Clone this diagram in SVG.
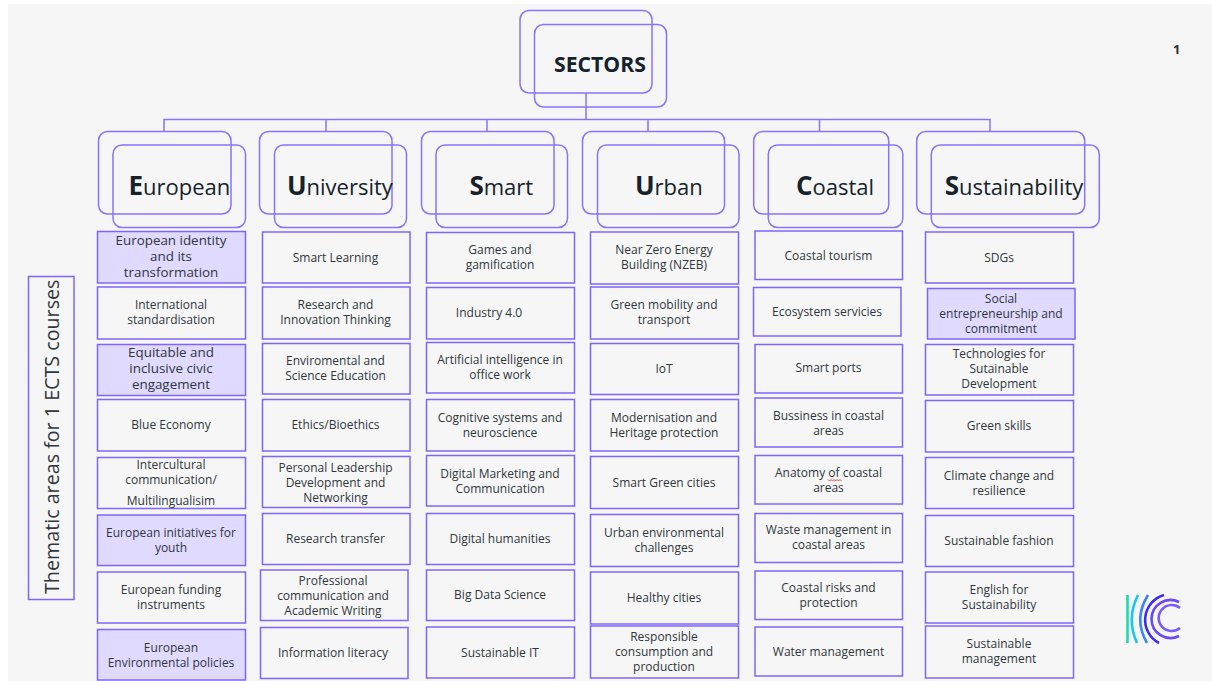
<svg xmlns="http://www.w3.org/2000/svg" width="1212" height="681" viewBox="0 0 1212 681">
<style>
text{font-family:"Open Sans","Noto Sans","Liberation Sans",sans-serif;fill:#2f363c}
.t{font-size:12px;text-anchor:middle;transform:translateY(.7px)}
.b{font-size:13.4px;text-anchor:middle;transform:translateY(.3px)}
.h{font-size:22px;fill:#15222b;transform:translateX(-.6px)}
.h tspan{font-size:26px;font-weight:700}
.s{font-size:21.2px;font-weight:700;fill:#15222b}
.r,.rf{stroke:#7f66fb;stroke-width:1.5;fill:none}
.rf{fill:#e0daff}
.c{stroke:#8a73fb;stroke-width:1.5;fill:none}
.l{stroke-width:2.6;fill:none}
</style>
<rect width="1212" height="681" fill="#fff"/>
<rect x="8" y="4" width="1204" height="677" fill="#f6f6f6"/>
<g id="connectors">
<path class="c" d="M586 93V119.5M164 131.5V119.5H990V131.5M326 119.5V131.5M487 119.5V131.5M648 119.5V131.5M819.5 119.5V131.5"/>
</g>
<g id="sectors"><rect class="c" x="520" y="10.5" width="132" height="82.5" rx="9"/><rect class="c" x="534.5" y="24.5" width="132" height="82.5" rx="9"/><text class="s" x="554" y="71.500">SECTORS</text></g>
<g id="european"><rect class="c" x="98.5" y="131.5" width="132.5" height="82.5" rx="9"/><rect class="c" x="113" y="145" width="132.5" height="82.5" rx="9"/><text class="h" x="129" y="194.5"><tspan>E</tspan>uropean</text></g>
<g id="university"><rect class="c" x="259.5" y="131.5" width="132.5" height="82.5" rx="9"/><rect class="c" x="274.5" y="145" width="132" height="82.5" rx="9"/><text class="h" x="287.5" y="194.5"><tspan>U</tspan>niversity</text></g>
<g id="smart"><rect class="c" x="421.5" y="131.5" width="132.5" height="82.5" rx="9"/><rect class="c" x="436" y="145" width="131.5" height="82.5" rx="9"/><text class="h" x="470" y="194.5"><tspan>S</tspan>mart</text></g>
<g id="urban"><rect class="c" x="582.5" y="131.5" width="142" height="82.5" rx="9"/><rect class="c" x="597.5" y="145" width="141.5" height="82.5" rx="9"/><text class="h" x="635.500" y="194.5"><tspan>U</tspan>rban</text></g>
<g id="coastal"><rect class="c" x="753.7" y="131.5" width="135" height="82.5" rx="9"/><rect class="c" x="768.3" y="145" width="134.5" height="82.5" rx="9"/><text class="h" x="796.5" y="194.5"><tspan>C</tspan>oastal</text></g>
<g id="sustainability"><rect class="c" x="916.7" y="131.5" width="168" height="82.5" rx="9"/><rect class="c" x="931.3" y="145" width="168" height="82.5" rx="9"/><text class="h" x="945.3" y="194.5"><tspan>S</tspan>ustainability</text></g>

<g id="eu1"><rect class="rf" x="97.5" y="231.5" width="148" height="51.5"/><text class="b" x="171" y="244.5">European identity</text><text class="b" x="171" y="260.7">and its</text><text class="b" x="171" y="277">transformation</text></g>
<g id="eu2"><rect class="r" x="97.5" y="287" width="148" height="52"/><text class="t" x="171" y="308.7">International</text><text class="t" x="171" y="323.7">standardisation</text></g>
<g id="eu3"><rect class="rf" x="97.5" y="344.5" width="148" height="51"/><text class="b" x="171" y="357">Equitable and</text><text class="b" x="171" y="372.7">inclusive civic</text><text class="b" x="171" y="389">engagement</text></g>
<g id="eu4"><rect class="r" x="97.5" y="399.5" width="148" height="51.5"/><text class="t" x="171" y="428.7">Blue Economy</text></g>
<g id="eu5"><rect class="r" x="97.5" y="457.5" width="148" height="51"/><text class="t" x="171" y="468.7">Intercultural</text><text class="t" x="171" y="483.7">communication/</text><text class="t" x="171" y="504.7">Multilingualisim</text></g>
<g id="eu6"><rect class="rf" x="97.5" y="515" width="148" height="50.5"/><text class="t" x="171" y="536.7">European initiatives for</text><text class="t" x="171" y="551.3">youth</text></g>
<g id="eu7"><rect class="r" x="97.5" y="572" width="148" height="51"/><text class="t" x="171" y="593.7">European funding</text><text class="t" x="171" y="608.7">instruments</text></g>
<g id="eu8"><rect class="rf" x="97.5" y="629.5" width="148" height="50.5"/><text class="t" x="171" y="651">European</text><text class="t" x="171" y="666">Environmental policies</text></g>

<g id="un1"><rect class="r" x="262.5" y="232" width="147.5" height="51"/><text class="t" x="335.5" y="261">Smart Learning</text></g>
<g id="un2"><rect class="r" x="262.5" y="287" width="147.5" height="52"/><text class="t" x="335.5" y="308.7">Research and</text><text class="t" x="335.5" y="323.7">Innovation Thinking</text></g>
<g id="un3"><rect class="r" x="262.5" y="343.5" width="147.5" height="50.5"/><text class="t" x="335.5" y="364.3">Enviromental and</text><text class="t" x="335.5" y="379.3">Science Education</text></g>
<g id="un4"><rect class="r" x="262.5" y="399.5" width="147.5" height="51.5"/><text class="t" x="335.5" y="428.7">Ethics/Bioethics</text></g>
<g id="un5"><rect class="r" x="262.5" y="456.5" width="147.5" height="51"/><text class="t" x="335.5" y="471">Personal Leadership</text><text class="t" x="335.5" y="486">Development and</text><text class="t" x="335.5" y="501">Networking</text></g>
<g id="un6"><rect class="r" x="262.5" y="513.5" width="147.5" height="51"/><text class="t" x="335.5" y="542.7">Research transfer</text></g>
<g id="un7"><rect class="r" x="260.5" y="570" width="147.5" height="50.5"/><text class="t" x="333" y="584.3">Professional</text><text class="t" x="333" y="599.3">communication and</text><text class="t" x="333" y="614.3">Academic Writing</text></g>
<g id="un8"><rect class="r" x="260.5" y="627.5" width="147.5" height="51"/><text class="t" x="333" y="656">Information literacy</text></g>

<g id="sm1"><rect class="r" x="426.5" y="232.5" width="148" height="50.5"/><text class="t" x="500" y="253.3">Games and</text><text class="t" x="500" y="268.3">gamification</text></g>
<g id="sm2"><rect class="r" x="426.5" y="287.5" width="148" height="51.5"/><text class="t" x="489" y="316">Industry 4.0</text></g>
<g id="sm3"><rect class="r" x="426.5" y="342.5" width="148" height="50.5"/><text class="t" x="500" y="363.7">Artificial intelligence in</text><text class="t" x="500" y="378.7">office work</text></g>
<g id="sm4"><rect class="r" x="426.5" y="399.5" width="148" height="51.5"/><text class="t" x="500" y="421">Cognitive systems and</text><text class="t" x="500" y="436">neuroscience</text></g>
<g id="sm5"><rect class="r" x="426.5" y="455.5" width="148" height="50.5"/><text class="t" x="500" y="477">Digital Marketing and</text><text class="t" x="500" y="492">Communication</text></g>
<g id="sm6"><rect class="r" x="426.5" y="513.5" width="148" height="51"/><text class="t" x="500" y="542.7">Digital humanities</text></g>
<g id="sm7"><rect class="r" x="426.5" y="570" width="148" height="50.5"/><text class="t" x="500" y="598.7">Big Data Science</text></g>
<g id="sm8"><rect class="r" x="426.5" y="627" width="148" height="51"/><text class="t" x="500" y="656">Sustainable IT</text></g>

<g id="ur1"><rect class="r" x="590.5" y="232" width="148" height="52"/><text class="t" x="664" y="253.3">Near Zero Energy</text><text class="t" x="664" y="268.3">Building (NZEB)</text></g>
<g id="ur2"><rect class="r" x="590.5" y="287" width="148" height="52"/><text class="t" x="664" y="308.3">Green mobility and</text><text class="t" x="664" y="323.3">transport</text></g>
<g id="ur3"><rect class="r" x="590.5" y="343.5" width="148" height="51"/><text class="t" x="664" y="372.3">IoT</text></g>
<g id="ur4"><rect class="r" x="590.5" y="399.5" width="148" height="51.5"/><text class="t" x="664" y="421">Modernisation and</text><text class="t" x="664" y="436">Heritage protection</text></g>
<g id="ur5"><rect class="r" x="590.5" y="456.5" width="148" height="52"/><text class="t" x="664" y="486.7">Smart Green cities</text></g>
<g id="ur6"><rect class="r" x="590.5" y="514.5" width="148" height="52"/><text class="t" x="664" y="536.7">Urban environmental</text><text class="t" x="664" y="551.7">challenges</text></g>
<g id="ur7"><rect class="r" x="590.5" y="572" width="148" height="52"/><text class="t" x="664" y="601">Healthy cities</text></g>
<g id="ur8"><rect class="r" x="590.5" y="626" width="148" height="52"/><text class="t" x="664" y="640">Responsible</text><text class="t" x="664" y="655">consumption and</text><text class="t" x="664" y="670">production</text></g>

<g id="co1"><rect class="r" x="755" y="231" width="147.5" height="48.5"/><text class="t" x="828.5" y="259">Coastal tourism</text></g>
<g id="co2"><rect class="r" x="753.5" y="287.5" width="147.5" height="48.5"/><text class="t" x="827" y="315">Ecosystem servicies</text></g>
<g id="co3"><rect class="r" x="755" y="344.5" width="147.5" height="48.5"/><text class="t" x="828.5" y="371.3">Smart ports</text></g>
<g id="co4"><rect class="r" x="755" y="398" width="147.5" height="49"/><text class="t" x="828.5" y="419">Bussiness in coastal</text><text class="t" x="828.5" y="434">areas</text></g>
<g id="co5"><rect class="r" x="755" y="455.5" width="147.5" height="48.5"/><text class="t" x="828.5" y="476">Anatomy of coastal</text><text class="t" x="828.5" y="491">areas</text><path d="M828 479.5l1.5 1.5 1.500-1.500 1.500 1.500 1.500-1.500 1.500 1.500 1.500-1.500 1.500 1.500 1.500-1.500 1.500 1.500" fill="none" stroke="#e8423a" stroke-width="1"/></g>
<g id="co6"><rect class="r" x="755" y="513.5" width="147.5" height="49"/><text class="t" x="828.5" y="533.3">Waste management in</text><text class="t" x="828.5" y="548.3">coastal areas</text></g>
<g id="co7"><rect class="r" x="755" y="571" width="147.5" height="48.5"/><text class="t" x="828.5" y="591.3">Coastal risks and</text><text class="t" x="828.5" y="606.3">protection</text></g>
<g id="co8"><rect class="r" x="755" y="627" width="147.5" height="49"/><text class="t" x="828.5" y="655">Water management</text></g>

<g id="su1"><rect class="r" x="925.5" y="232" width="148" height="51"/><text class="t" x="999" y="261">SDGs</text></g>
<g id="su2"><rect class="rf" x="927.5" y="288.5" width="147.5" height="50.5"/><text class="t" x="1001" y="302.3">Social</text><text class="t" x="1001" y="317.3">entrepreneurship and</text><text class="t" x="1001" y="332.3">commitment</text></g>
<g id="su3"><rect class="r" x="925.5" y="344.5" width="148" height="50.5"/><text class="t" x="999" y="357.3">Technologies for</text><text class="t" x="999" y="372.3">Sutainable</text><text class="t" x="999" y="387.3">Development</text></g>
<g id="su4"><rect class="r" x="925.5" y="400.5" width="148" height="51.5"/><text class="t" x="999" y="429.3">Green skills</text></g>
<g id="su5"><rect class="r" x="925.5" y="457.5" width="148" height="51"/><text class="t" x="999" y="479">Climate change and</text><text class="t" x="999" y="494">resilience</text></g>
<g id="su6"><rect class="r" x="925.5" y="515.5" width="148" height="51"/><text class="t" x="999" y="544.7">Sustainable fashion</text></g>
<g id="su7"><rect class="r" x="925.5" y="572" width="148" height="51"/><text class="t" x="999" y="593.7">English for</text><text class="t" x="999" y="608.7">Sustainability</text></g>
<g id="su8"><rect class="r" x="925.5" y="626" width="148" height="52"/><text class="t" x="999" y="647.3">Sustainable</text><text class="t" x="999" y="662.3">management</text></g>

<g id="thematic"><rect class="r" x="28.5" y="276.5" width="45.5" height="323"/><text transform="translate(59 594) rotate(-90)" font-size="19.7">Thematic areas for 1 ECTS courses</text></g>
<text x="1176.7" y="54" font-size="13" font-weight="700" text-anchor="middle" style="fill:#333">1</text>
<g id="logo">
<path class="l" stroke="#1ddcb2" d="M1127.5 595V643"/>
<path class="l" stroke="#1cc6ea" d="M1138 595Q1126 619 1137 643"/>
<path class="l" stroke="#3c86f2" d="M1148 595Q1133 619 1147 643"/>
<path class="l" stroke="#3a2cf0" d="M1164 595A26 26 0 0 0 1159 643"/>
<path class="l" stroke="#6a4af5" d="M1179 602A19 19 0 1 0 1179 636"/>
<path class="l" stroke="#7c5cf5" d="M1180 608A13 13 0 1 0 1180 628"/>
</g>
</svg>
